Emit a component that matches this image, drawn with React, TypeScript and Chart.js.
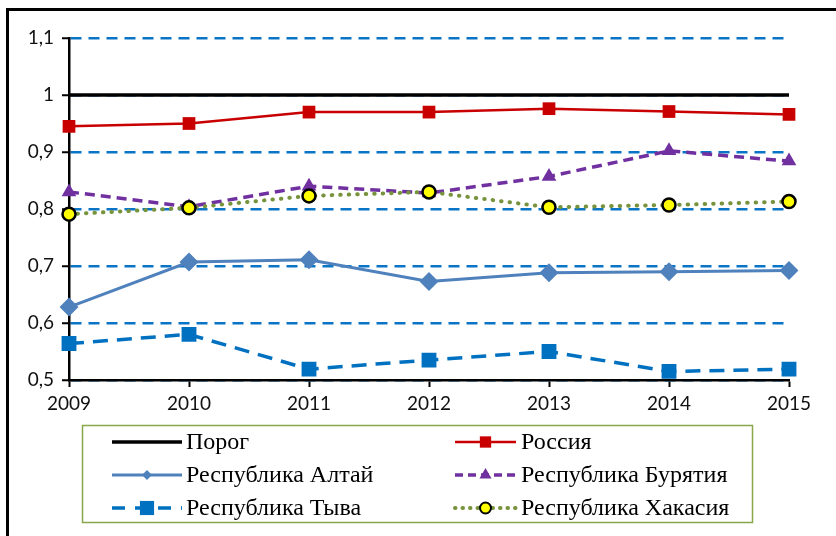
import React, { useEffect, useRef } from 'react';
import { Chart, registerables } from 'chart.js';

Chart.register(...registerables);

const years = ['2009', '2010', '2011', '2012', '2013', '2014', '2015'];
const threshold = [1, 1, 1, 1, 1, 1, 1];
const russia = [0.945, 0.950, 0.970, 0.970, 0.976, 0.971, 0.966];
const altai = [0.628, 0.707, 0.711, 0.673, 0.688, 0.690, 0.692];
const buryatia = [0.830, 0.804, 0.840, 0.828, 0.857, 0.902, 0.884];
const tyva = [0.564, 0.580, 0.519, 0.535, 0.550, 0.515, 0.519];
const khakassia = [0.791, 0.802, 0.823, 0.830, 0.803, 0.807, 0.813];
const yTickLabels = ['0,5', '0,6', '0,7', '0,8', '0,9', '1', '1,1'];
const seriesNames = [
  'Порог',
  'Россия',
  'Республика Алтай',
  'Республика Бурятия',
  'Республика Тыва',
  'Республика Хакасия',
];

const LEGEND_FONT = "'Liberation Serif', 'Times New Roman', 'DejaVu Serif', serif";
const TICK_FONT = "Lato, 'Open Sans', sans-serif";

function drawMarker(
  ctx: CanvasRenderingContext2D,
  style: string,
  x: number,
  y: number,
  r: number,
  fill: string,
  stroke: string,
  lw: number
) {
  ctx.save();
  ctx.setLineDash([]);
  ctx.beginPath();
  if (style === 'rect') {
    const s = r * Math.SQRT1_2;
    ctx.rect(x - s, y - s, 2 * s, 2 * s);
  } else if (style === 'rectRot') {
    ctx.moveTo(x, y - r);
    ctx.lineTo(x + r, y);
    ctx.lineTo(x, y + r);
    ctx.lineTo(x - r, y);
    ctx.closePath();
  } else if (style === 'triangle') {
    ctx.moveTo(x, y - r);
    ctx.lineTo(x + r * 0.866, y + r * 0.5);
    ctx.lineTo(x - r * 0.866, y + r * 0.5);
    ctx.closePath();
  } else if (style === 'circle') {
    ctx.arc(x, y, r, 0, Math.PI * 2);
  } else {
    ctx.restore();
    return;
  }
  ctx.fillStyle = fill;
  ctx.fill();
  if (lw > 0) {
    ctx.lineWidth = lw;
    ctx.strokeStyle = stroke;
    ctx.stroke();
  }
  ctx.restore();
}

const legendInfo = [
  { dash: [] as number[], style: '', r: 0, lw: 0 },
  { dash: [] as number[], style: 'rect', r: 8, lw: 0 },
  { dash: [] as number[], style: 'rectRot', r: 5, lw: 0 },
  { dash: [8, 5], style: 'triangle', r: 7, lw: 0 },
  { dash: [13, 10], style: 'rect', r: 10, lw: 0 },
  { dash: [0.5, 7], style: 'circle', r: 5.5, lw: 2 },
];

const framePlugin = {
  id: 'frameAndLegend',
  afterDraw(chart: any) {
    const ctx: CanvasRenderingContext2D = chart.ctx;
    ctx.save();
    // outer frame (top and left visible)
    ctx.strokeStyle = '#000';
    ctx.lineWidth = 3;
    ctx.setLineDash([]);
    ctx.beginPath();
    ctx.moveTo(7.5, 540);
    ctx.lineTo(7.5, 9.5);
    ctx.lineTo(840, 9.5);
    ctx.stroke();

    // legend box
    ctx.strokeStyle = '#8AA64A';
    ctx.lineWidth = 1.5;
    ctx.strokeRect(82.5, 425.5, 670, 97);

    const cols = [
      { x0: 112, x1: 182, tx: 186 },
      { x0: 455, x1: 516, tx: 521 },
    ];
    const rows = [442, 475, 508];
    chart.data.datasets.forEach((ds: any, i: number) => {
      const c = cols[i % 2];
      const y = rows[Math.floor(i / 2)];
      const info = legendInfo[i];
      ctx.save();
      ctx.strokeStyle = ds.borderColor;
      ctx.lineWidth = ds.borderWidth;
      ctx.lineCap = ds.borderCapStyle || 'butt';
      ctx.setLineDash(info.dash);
      ctx.beginPath();
      ctx.moveTo(c.x0, y);
      ctx.lineTo(c.x1, y);
      ctx.stroke();
      ctx.restore();
      if (info.style) {
        drawMarker(
          ctx,
          info.style,
          (c.x0 + c.x1) / 2,
          y,
          info.r,
          ds.pointBackgroundColor,
          ds.pointBorderColor,
          info.lw
        );
      }
      ctx.fillStyle = '#000';
      ctx.font = `24px ${LEGEND_FONT}`;
      ctx.textAlign = 'left';
      ctx.textBaseline = 'middle';
      ctx.fillText(seriesNames[i], c.tx, y + 1);
    });
    ctx.restore();
  },
};

export default function App() {
  const ref = useRef<HTMLCanvasElement | null>(null);

  useEffect(() => {
    if (!ref.current) return;
    const chart = new Chart(ref.current, {
      type: 'line',
      data: {
        labels: years,
        datasets: [
          {
            label: seriesNames[0],
            data: threshold,
            borderColor: '#000000',
            borderWidth: 3.5,
            pointRadius: 0,
            pointStyle: false as any,
            pointBackgroundColor: '#000',
            pointBorderColor: '#000',
            order: 6,
          },
          {
            label: seriesNames[1],
            data: russia,
            borderColor: '#C80000',
            borderWidth: 2.5,
            pointStyle: 'rect',
            pointRadius: 9,
            pointBackgroundColor: '#C80000',
            pointBorderColor: '#C80000',
            pointBorderWidth: 0,
            order: 5,
          },
          {
            label: seriesNames[2],
            data: altai,
            borderColor: '#4F81BD',
            borderWidth: 3,
            pointStyle: 'rectRot',
            pointRadius: 9.5,
            pointBackgroundColor: '#4F81BD',
            pointBorderColor: '#4F81BD',
            pointBorderWidth: 0,
            order: 4,
          },
          {
            label: seriesNames[3],
            data: buryatia,
            borderColor: '#7030A0',
            borderWidth: 3.5,
            borderDash: [10, 6],
            pointStyle: 'triangle',
            pointRadius: 8.5,
            pointBackgroundColor: '#7030A0',
            pointBorderColor: '#7030A0',
            pointBorderWidth: 0,
            order: 3,
          },
          {
            label: seriesNames[4],
            data: tyva,
            borderColor: '#0070C0',
            borderWidth: 3.5,
            borderDash: [15, 9],
            pointStyle: 'rect',
            pointRadius: 10.5,
            pointBackgroundColor: '#0070C0',
            pointBorderColor: '#0070C0',
            pointBorderWidth: 0,
            order: 2,
          },
          {
            label: seriesNames[5],
            data: khakassia,
            borderColor: '#77933C',
            borderWidth: 4,
            borderDash: [0.5, 8],
            borderCapStyle: 'round',
            pointStyle: 'circle',
            pointRadius: 6.5,
            pointBackgroundColor: '#FFFF00',
            pointBorderColor: '#000000',
            pointBorderWidth: 2.5,
            order: 1,
          },
        ] as any,
      },
      options: {
        responsive: false,
        animation: false,
        events: [],
        elements: { line: { tension: 0 } },
        layout: { padding: { left: 9, top: 38, right: 47, bottom: 116 } },
        plugins: {
          legend: { display: false },
          tooltip: { enabled: false },
        },
        scales: {
          x: {
            type: 'category',
            offset: false,
            grid: {
              display: true,
              drawOnChartArea: false,
              drawTicks: true,
              tickLength: 7,
              tickColor: '#000',
              tickWidth: 2,
            },
            border: { display: true, color: '#000', width: 2.5 },
            ticks: {
              color: '#111',
              font: { family: TICK_FONT, size: 19 },
              padding: 5,
              maxRotation: 0,
              autoSkip: false,
            },
            afterFit: (s: any) => {
              s.height = 40;
            },
          },
          y: {
            min: 0.5,
            max: 1.1,
            ticks: {
              stepSize: 0.1,
              callback: (_v: any, i: number) => yTickLabels[i],
              color: '#111',
              font: { family: TICK_FONT, size: 19 },
              padding: 8,
            },
            grid: {
              color: '#0A74C6',
              lineWidth: 2.5,
              tickColor: '#000',
              tickLength: 7,
              tickWidth: 2,
            },
            border: { display: true, color: '#000', width: 2.5, dash: [11, 7] },
            afterFit: (s: any) => {
              s.width = 60;
            },
          },
        },
      } as any,
      plugins: [framePlugin],
    });
    return () => chart.destroy();
  }, []);

  return (
    <div style={{ position: 'fixed', left: 0, top: 0, width: 836, height: 536, background: '#fff' }}>
      <canvas ref={ref} width={836} height={536} style={{ display: 'block' }} />
    </div>
  );
}
